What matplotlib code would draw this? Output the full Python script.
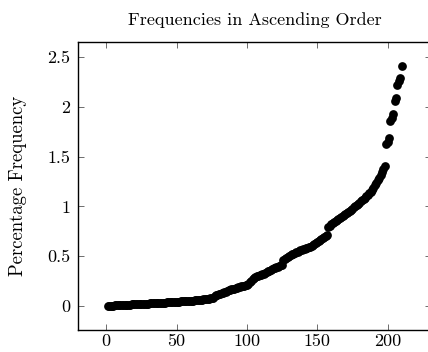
import numpy as np
import matplotlib
matplotlib.use("Agg")
import matplotlib.pyplot as plt

# sorted percentage frequencies
freq = [
    0.000, 0.002, 0.003, 0.004, 0.005, 0.006, 0.007, 0.008, 0.009, 0.010,
    0.011, 0.012, 0.012, 0.013, 0.014, 0.015, 0.015, 0.016, 0.017, 0.018,
    0.018, 0.019, 0.020, 0.020, 0.021, 0.022, 0.023, 0.023, 0.024, 0.025,
    0.026, 0.027, 0.027, 0.028, 0.029, 0.030, 0.031, 0.031, 0.032, 0.033,
    0.034, 0.035, 0.036, 0.037, 0.038, 0.039, 0.040, 0.041, 0.042, 0.043,
    0.044, 0.045, 0.046, 0.047, 0.048, 0.049, 0.050, 0.051, 0.052, 0.053,
    0.054, 0.055, 0.057, 0.058, 0.059, 0.061, 0.062, 0.064, 0.066, 0.068,
    0.070, 0.072, 0.074, 0.076, 0.079, 0.082,
    0.105, 0.110, 0.115, 0.120,
    0.124, 0.128, 0.132, 0.137, 0.145, 0.152, 0.158, 0.163, 0.167, 0.170,
    0.175, 0.180, 0.184, 0.188, 0.192, 0.196, 0.200, 0.205, 0.210, 0.215,
    0.225, 0.240, 0.255, 0.272, 0.285,
    0.292, 0.297, 0.302, 0.308, 0.314,
    0.320, 0.325, 0.332, 0.340, 0.348, 0.355, 0.362, 0.370, 0.377, 0.383,
    0.390, 0.396, 0.402, 0.408, 0.415,
    0.465, 0.475, 0.485, 0.494, 0.503,
    0.510, 0.518, 0.525, 0.532, 0.540, 0.547, 0.553, 0.559, 0.565, 0.570,
    0.575, 0.580, 0.585, 0.590, 0.596, 0.604, 0.612, 0.620, 0.630, 0.640,
    0.650, 0.660, 0.670, 0.680, 0.690, 0.700, 0.712,
    0.790, 0.805, 0.820,
    0.832, 0.845, 0.857, 0.868, 0.878, 0.888, 0.898, 0.908, 0.918, 0.928,
    0.938, 0.948, 0.958, 0.968, 0.978, 0.990, 1.000, 1.012, 1.025, 1.037,
    1.050, 1.062, 1.075, 1.088, 1.100, 1.115, 1.130, 1.150, 1.170, 1.190,
    1.215, 1.240, 1.265, 1.290, 1.320, 1.350, 1.380,
    1.410,
    1.625, 1.650, 1.690,
    1.860, 1.890, 1.930,
    2.060, 2.090,
    2.220, 2.255, 2.290,
    2.410,
]
xticks = [0, 50, 100, 150, 200]
yticks = [0, 0.5, 1, 1.5, 2, 2.5]
ytick_labels = ['0', '0.5', '1', '1.5', '2', '2.5']

plt.rcParams['font.family'] = 'cmr10'
plt.rcParams['mathtext.fontset'] = 'cm'
plt.rcParams['axes.unicode_minus'] = False

x = np.arange(1, len(freq) + 1)

fig = plt.figure(figsize=(4.28, 3.52), dpi=100)
ax = fig.add_axes([0.183, 0.0625, 0.824, 0.818])

ax.plot(x, freq, 'o', color='black', ms=6.3, mew=0)

# pgfplots style: 10% enlarged limits
ax.set_xlim(x.min() - 0.1 * (x.max() - x.min()), x.max() + 0.1 * (x.max() - x.min()))
ax.set_ylim(-0.1 * max(freq), 1.1 * max(freq))

ax.set_xticks(xticks)
ax.set_xticklabels([str(t) for t in xticks])
ax.set_yticks(yticks)
ax.set_yticklabels(ytick_labels)
ax.tick_params(direction='in', length=4, width=0.6, color='#555555',
               top=True, right=True, labelsize=13, pad=6)
ax.tick_params(axis='x', pad=2.5)
for s in ax.spines.values():
    s.set_linewidth(1.0)

ax.set_title('Frequencies in Ascending Order', fontsize=13, pad=12)
ax.set_ylabel('Percentage Frequency', fontsize=13.5, labelpad=14)

fig.savefig('out.png', dpi=100)
